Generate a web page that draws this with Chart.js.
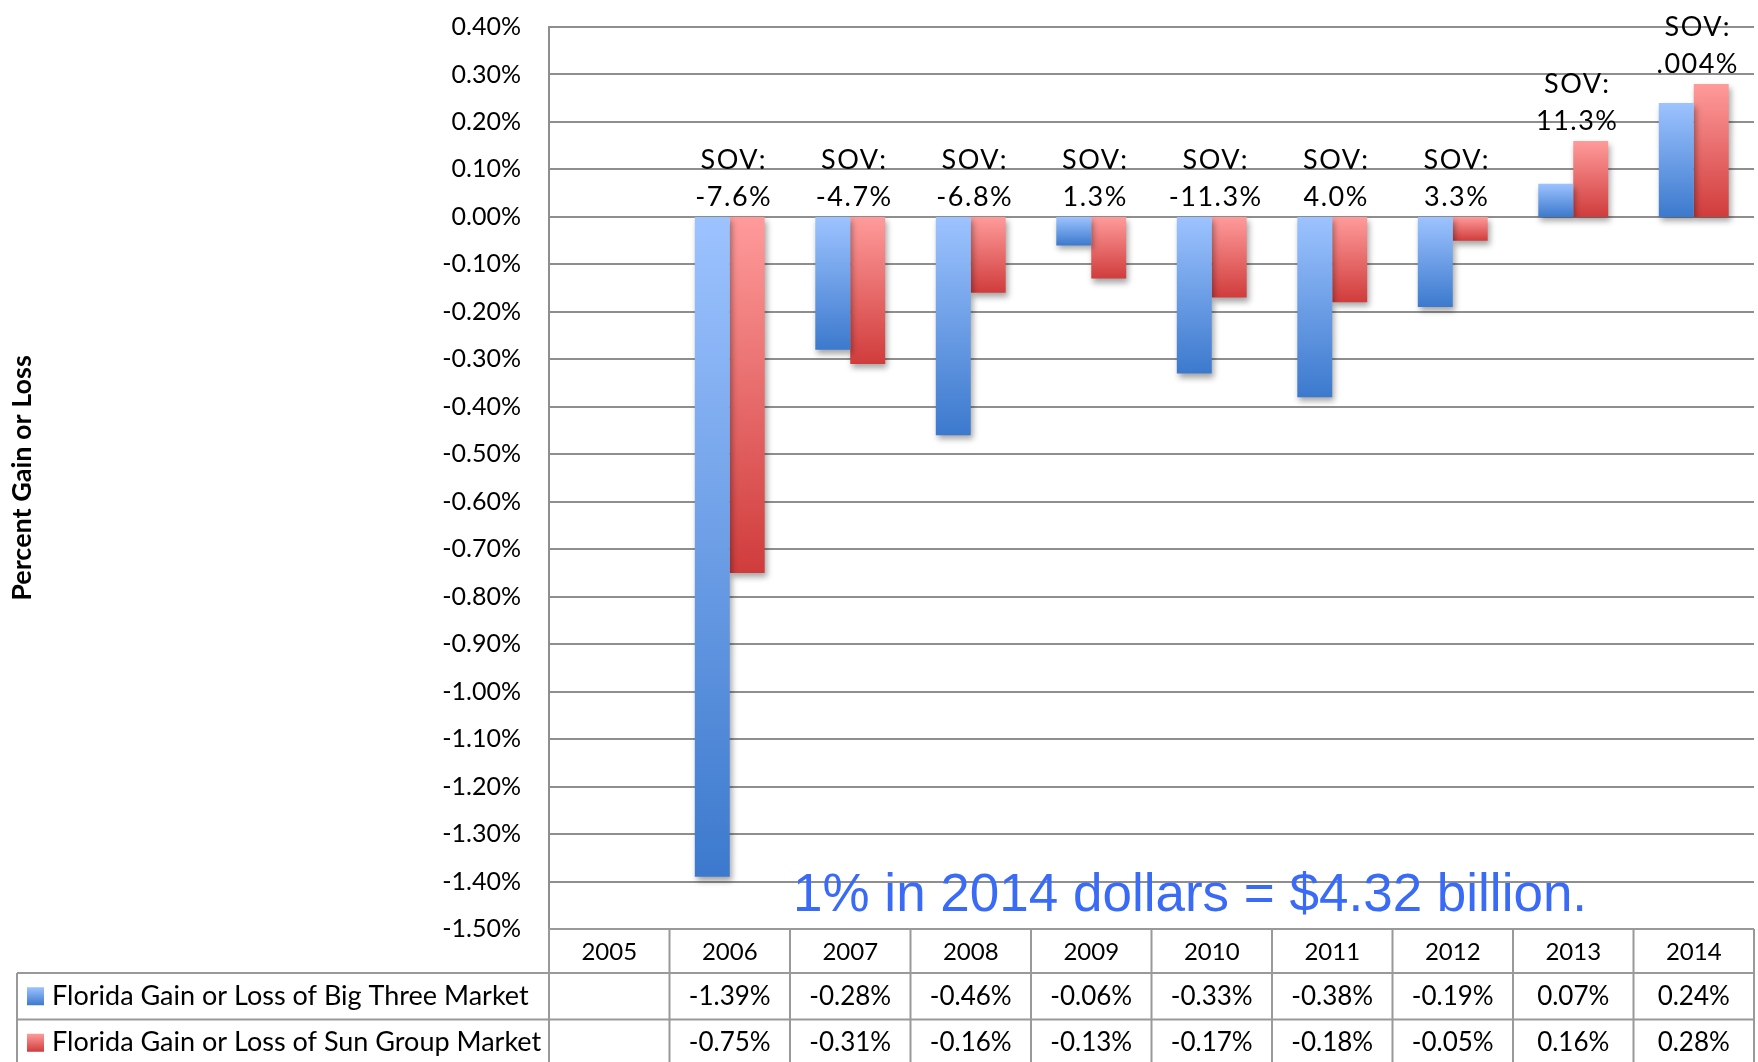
<!DOCTYPE html>
<html>
<head>
<meta charset="utf-8">
<script src="https://cdn.jsdelivr.net/npm/chart.js@4.4.1/dist/chart.umd.min.js"></script>
<style>
html, body { margin: 0; padding: 0; background: #fff; }
</style>
</head>
<body>
<canvas id="barChart" width="1758" height="1062"></canvas>
<script>
// data
const years = ['2005', '2006', '2007', '2008', '2009', '2010', '2011', '2012', '2013', '2014'];
const bigThree = [null, -1.39, -0.28, -0.46, -0.06, -0.33, -0.38, -0.19, 0.07, 0.24];
const sunGroup = [null, -0.75, -0.31, -0.16, -0.13, -0.17, -0.18, -0.05, 0.16, 0.28];
const sovLabels = ['', '-7.6%', '-4.7%', '-6.8%', '1.3%', '-11.3%', '4.0%', '3.3%', '11.3%', '.004%'];
const seriesNames = ['Florida Gain or Loss of Big Three Market', 'Florida Gain or Loss of Sun Group Market'];
const yMin = -1.5, yMax = 0.4, yStep = 0.1;
const note = '1% in 2014 dollars = $4.32 billion.';

const blueLight = '#9dc3ff', blueDark = '#3c79cd';
const redLight = '#ff9b9b', redDark = '#d03c3c';
const lineGray = '#8e8e8e';

function pct(v) {
    if (v == null) return '';
    if (Math.abs(v) < 1e-9) v = 0;
    return v.toFixed(2) + '%';
}

// vertical gradient over each bar, light on top, dark at the bottom
function barFill(light, dark) {
    return (c) => {
        const chart = c.chart;
        if (!chart.chartArea || c.raw == null) return dark;
        const y = chart.scales.y;
        const a = y.getPixelForValue(0);
        const b = y.getPixelForValue(c.raw);
        const g = chart.ctx.createLinearGradient(0, Math.min(a, b), 0, Math.max(a, b) + 0.01);
        g.addColorStop(0, light);
        g.addColorStop(1, dark);
        return g;
    };
}

const shadowPlugin = {
    id: 'barShadow',
    beforeDatasetsDraw(chart) {
        const c = chart.ctx;
        c.save();
        c.shadowColor = 'rgba(0,0,0,0.35)';
        c.shadowBlur = 6;
        c.shadowOffsetX = 2;
        c.shadowOffsetY = 4;
    },
    afterDatasetsDraw(chart) {
        chart.ctx.restore();
    }
};

const sovPlugin = {
    id: 'sovLabels',
    afterDraw(chart) {
        const { ctx, scales: { x, y } } = chart;
        ctx.save();
        ctx.fillStyle = '#000';
        ctx.font = '27px Lato';
        ctx.letterSpacing = '1.5px';
        ctx.textAlign = 'center';
        ctx.textBaseline = 'middle';
        sovLabels.forEach((lbl, i) => {
            if (!lbl) return;
            const top = Math.min(y.getPixelForValue(0), y.getPixelForValue(bigThree[i]), y.getPixelForValue(sunGroup[i]));
            const cx = x.getPixelForValue(i) + 4;
            ctx.fillText(lbl, cx, top - 20);
            ctx.fillText('SOV:', cx, top - 57);
        });
        ctx.restore();
    }
};

const notePlugin = {
    id: 'note',
    afterDraw(chart) {
        const { ctx, chartArea: area, scales: { y } } = chart;
        ctx.save();
        ctx.fillStyle = '#3a6bf6';
        ctx.font = '53px "Liberation Sans", Arial, sans-serif';
        ctx.textAlign = 'center';
        ctx.textBaseline = 'alphabetic';
        ctx.fillText(note, area.left + (area.right - area.left) * 0.532, y.getPixelForValue(-1.463));
        ctx.restore();
    }
};

const tablePlugin = {
    id: 'dataTable',
    afterDraw(chart) {
        const { ctx, chartArea: area, scales: { x } } = chart;
        const colW = (x.right - x.left) / years.length;
        const headH = 44, rowH = 46.5;
        const top = area.bottom;
        const r1 = top + headH, r2 = r1 + rowH, r3 = r2 + rowH;
        const tableLeft = 17;

        ctx.save();
        ctx.strokeStyle = '#999';
        ctx.lineWidth = 2;
        ctx.beginPath();
        ctx.moveTo(area.left, top); ctx.lineTo(area.right, top);
        ctx.moveTo(tableLeft, r1); ctx.lineTo(area.right, r1);
        ctx.moveTo(tableLeft, r2); ctx.lineTo(area.right, r2);
        for (let i = 0; i <= years.length; i++) {
            const vx = x.left + i * colW;
            ctx.moveTo(vx, top); ctx.lineTo(vx, r3);
        }
        ctx.moveTo(tableLeft, r1); ctx.lineTo(tableLeft, r3);
        ctx.stroke();

        ctx.fillStyle = '#000';
        ctx.textBaseline = 'middle';
        ctx.textAlign = 'center';
        years.forEach((yr, i) => {
            const cx = x.getPixelForValue(i);
            ctx.font = '24px Lato';
            ctx.fillText(yr, cx, top + headH / 2 + 1);
            ctx.font = '26px Lato';
            ctx.fillText(pct(bigThree[i]), cx, r1 + rowH / 2);
            ctx.fillText(pct(sunGroup[i]), cx, r2 + rowH / 2);
        });

        // legend keys
        ctx.textAlign = 'left';
        [[blueLight, blueDark], [redLight, redDark]].forEach(([l, d], k) => {
            const ry = (k === 0 ? r1 : r2) + rowH / 2;
            const g = ctx.createLinearGradient(0, ry - 9, 0, ry + 9);
            g.addColorStop(0, l);
            g.addColorStop(1, d);
            ctx.fillStyle = g;
            ctx.fillRect(27, ry - 9, 17, 18);
            ctx.fillStyle = '#000';
            ctx.font = '27px Lato';
            ctx.fillText(seriesNames[k], 52, ry);
        });
        ctx.restore();
    }
};

const ctx = document.getElementById('barChart').getContext('2d');
const barChart = new Chart(ctx, {
    type: 'bar',
    data: {
        labels: years,
        datasets: [
            {
                label: seriesNames[0],
                data: bigThree,
                backgroundColor: barFill(blueLight, blueDark),
                borderWidth: 0
            },
            {
                label: seriesNames[1],
                data: sunGroup,
                backgroundColor: barFill(redLight, redDark),
                borderWidth: 0
            }
        ]
    },
    options: {
        responsive: false,
        animation: false,
        devicePixelRatio: 1,
        layout: { padding: { left: 0, top: 27, right: 4, bottom: 133 } },
        datasets: { bar: { categoryPercentage: 0.58, barPercentage: 1.0 } },
        scales: {
            x: { display: false },
            y: {
                min: yMin,
                max: yMax,
                afterFit(scale) { scale.width = 549; },
                ticks: {
                    stepSize: yStep,
                    padding: 0,
                    color: '#000',
                    font: { family: 'Lato', size: 25 },
                    callback: (v) => pct(v)
                },
                grid: { color: lineGray, lineWidth: 2, drawTicks: true, tickLength: 28, tickColor: 'rgba(0,0,0,0)' },
                border: { color: lineGray, width: 2 },
                title: {
                    display: true,
                    text: 'Percent Gain or Loss',
                    color: '#000',
                    font: { family: 'Lato', size: 27, weight: 'bold' },
                    padding: { top: 6, bottom: 0 }
                }
            }
        },
        plugins: {
            legend: { display: false },
            tooltip: { enabled: false }
        }
    },
    plugins: [shadowPlugin, sovPlugin, notePlugin, tablePlugin]
});
</script>
</body>
</html>
